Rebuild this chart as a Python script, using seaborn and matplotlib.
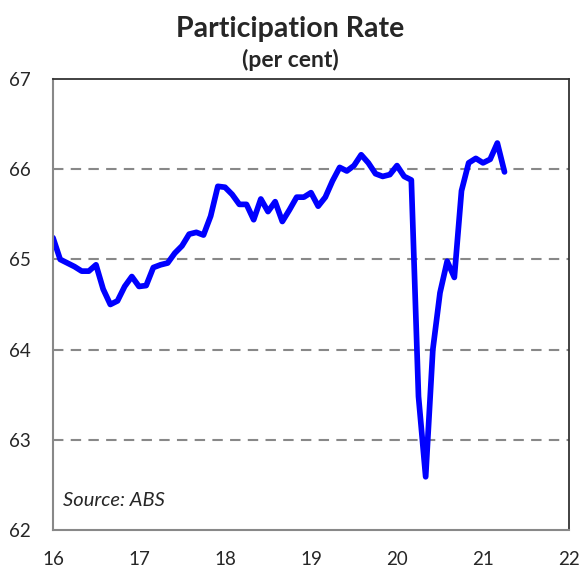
import numpy as np
import pandas as pd
import matplotlib
matplotlib.use("Agg")
import matplotlib.pyplot as plt
import matplotlib.transforms as mtransforms
import seaborn as sns

# Data: monthly participation rate, Jan 2016 - Apr 2021
start_year = 16
rate = [65.24, 65.00, 64.96, 64.92, 64.87, 64.87, 64.94, 64.67, 64.50, 64.54, 64.70, 64.81,
        64.70, 64.71, 64.91, 64.94, 64.96, 65.07, 65.15, 65.28, 65.30, 65.27, 65.48, 65.81,
        65.80, 65.72, 65.61, 65.61, 65.44, 65.67, 65.53, 65.64, 65.42, 65.55, 65.69, 65.69,
        65.74, 65.59, 65.69, 65.87, 66.02, 65.98, 66.04, 66.16, 66.07, 65.95, 65.92, 65.94,
        66.04, 65.92, 65.88, 63.48, 62.59, 64.00, 64.63, 64.98, 64.80, 65.76, 66.07, 66.12,
        66.07, 66.11, 66.29, 65.97]
x_ticks = [16, 17, 18, 19, 20, 21, 22]
y_ticks = [62, 63, 64, 65, 66, 67]
source = "Source: ABS"

df = pd.DataFrame({"year": [start_year + i / 12 for i in range(len(rate))], "rate": rate})

sns.set_style("white")
plt.rcParams['font.family'] = ['Lato', 'DejaVu Sans']

fig = plt.figure(figsize=(5.8, 5.68), dpi=100)
ax = fig.add_axes([53 / 580, 38 / 568, 516 / 580, 451 / 568])

sns.lineplot(data=df, x="year", y="rate", color="#0000FF", linewidth=4.1, ax=ax)

ax.set_xlim(16, 22)
ax.set_ylim(62, 67)
ax.set_xticks(x_ticks)
ax.set_yticks(y_ticks)
ax.set_xticklabels([str(t) for t in x_ticks], fontsize=13.5)
ax.set_yticklabels([str(t) for t in y_ticks], fontsize=13.5)
ax.set_xlabel("")
ax.set_ylabel("")

# keep the last x label inside the figure
last = ax.get_xticklabels()[-1]
last.set_transform(last.get_transform() + mtransforms.ScaledTranslation(-4 / 100, 0, fig.dpi_scale_trans))

for y in y_ticks[1:-1]:
    ax.axhline(y, color="#888888", linewidth=1.5, linestyle=(0, (5, 3.5)), zorder=0)

ax.tick_params(axis="x", direction="in", length=5, width=1.2, color="#888888", pad=15)
ax.tick_params(axis="y", length=0, pad=16)

for side in ["left", "bottom"]:
    ax.spines[side].set_color("#888888")
    ax.spines[side].set_linewidth(1.5)
for side in ["top", "right"]:
    ax.spines[side].set_color("#333333")
    ax.spines[side].set_linewidth(1.3)

ax.text(0.02, 0.065, source, transform=ax.transAxes, fontsize=14.5, style="italic", va="center")

fig.text(0.5, 1 - 29 / 568, "Participation Rate", ha="center", va="center", fontsize=20.5, fontweight="bold")
fig.text(0.5, 1 - 60 / 568, "(per cent)", ha="center", va="center", fontsize=16.5, fontweight="bold")

fig.savefig("out.png", dpi=100)
